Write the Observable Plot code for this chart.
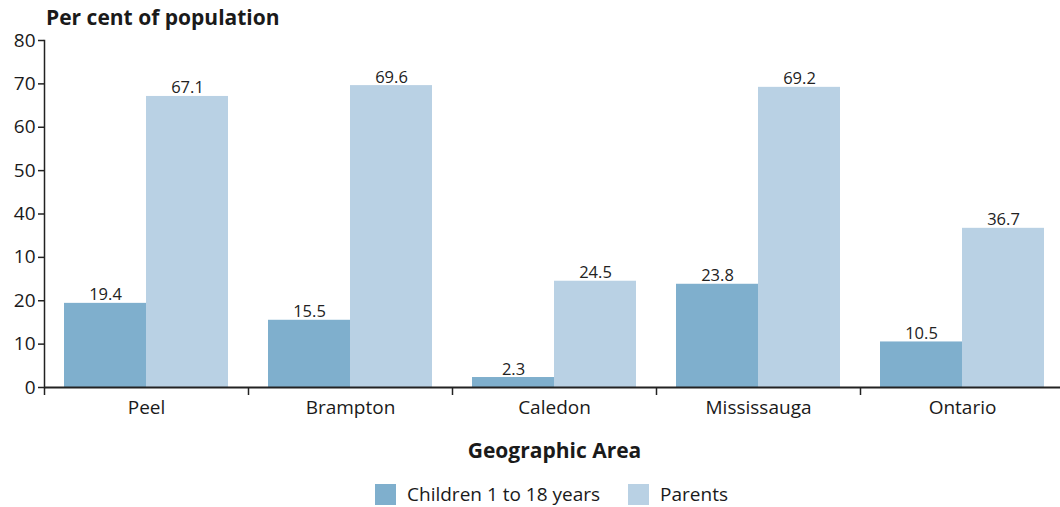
<!DOCTYPE html>
<html>
<head>
<meta charset="utf-8">
<script src="https://cdn.jsdelivr.net/npm/d3@7"></script>
<script src="https://cdn.jsdelivr.net/npm/@observablehq/plot@0.6"></script>
<style>
  html, body { margin: 0; padding: 0; background: #fff; overflow: hidden; }
  body { font-family: "Open Sans", Lato, sans-serif; color: #1a1a1a; width: 1060px; }
  #title { height: 34px; position: relative; }
  #title span { position: absolute; left: 46px; top: 3px; font-weight: 700; font-size: 21px; line-height: 28px; }
  #legend { display: flex; justify-content: center; align-items: center; font-size: 19px; line-height: 26px; margin-top: 11px; padding-left: 43px; }
  .sw { display: inline-block; width: 21px; height: 21px; margin-right: 11px; }
  .item { display: flex; align-items: center; margin: 0 14px; }
</style>
</head>
<body>
<div id="title"><span>Per cent of population</span></div>
<div id="chart"></div>
<div id="legend"></div>
<script>
const areas = ["Peel", "Brampton", "Caledon", "Mississauga", "Ontario"];
const seriesNames = ["Children 1 to 18 years", "Parents"];
const childrenValues = [19.4, 15.5, 2.3, 23.8, 10.5];
const parentValues = [67.1, 69.6, 24.5, 69.2, 36.7];
const yTicks = [0, 10, 20, 30, 40, 50, 60, 70, 80];
const yTickLabels = ["0", "10", "20", "10", "40", "50", "60", "70", "80"];
const colors = ["#7fafcd", "#b9d1e4"];

const children = areas.map((a, i) => ({area: a, value: childrenValues[i]}));
const parents = areas.map((a, i) => ({area: a, value: parentValues[i]}));

const plot = Plot.plot({
  width: 1060,
  height: 436,
  marginTop: 6,
  marginLeft: 44,
  marginRight: -4,
  marginBottom: 83,
  style: {fontFamily: "'Open Sans', Lato, sans-serif", fontSize: "19px", color: "#1a1a1a", overflow: "visible"},
  x: {domain: areas, padding: 0, label: null},
  y: {domain: [0, 80], label: null},
  marks: [
    Plot.barY(children, {x: "area", y: "value", fill: colors[0], insetLeft: 20, insetRight: 102}),
    Plot.barY(parents, {x: "area", y: "value", fill: colors[1], insetLeft: 102, insetRight: 20}),
    Plot.text(children, {x: "area", y: "value", text: d => d.value.toFixed(1), dx: -41, dy: -3, lineAnchor: "bottom", fontSize: 16.5, fill: "#222"}),
    Plot.text(parents, {x: "area", y: "value", text: d => d.value.toFixed(1), dx: 41, dy: -3, lineAnchor: "bottom", fontSize: 16.5, fill: "#222"}),
    Plot.axisY({ticks: yTicks, tickFormat: (d) => yTickLabels[yTicks.indexOf(d)], tickSize: 6, tickPadding: 3, fontSize: 19, stroke: "#222", strokeWidth: 1.5, label: null}),
    Plot.frame({anchor: "left", stroke: "#222", strokeWidth: 1.5}),
    Plot.axisX({dx: -102, tickSize: 8, tickFormat: () => "", stroke: "#222", strokeWidth: 1.5, label: null}),
    Plot.axisX({tickSize: 0, tickPadding: 13, fontSize: 19, label: null}),
    Plot.ruleY([0], {stroke: "#222", strokeWidth: 1.8}),
    Plot.text(["Geographic Area"], {frameAnchor: "bottom", dy: 70, fontSize: 21, fontWeight: "bold", fill: "#1a1a1a"})
  ]
});
document.getElementById("chart").appendChild(plot);

const legend = document.getElementById("legend");
seriesNames.forEach((name, i) => {
  const item = document.createElement("div");
  item.className = "item";
  const sw = document.createElement("span");
  sw.className = "sw";
  sw.style.background = colors[i];
  item.appendChild(sw);
  item.appendChild(document.createTextNode(name));
  legend.appendChild(item);
});
</script>
</body>
</html>
